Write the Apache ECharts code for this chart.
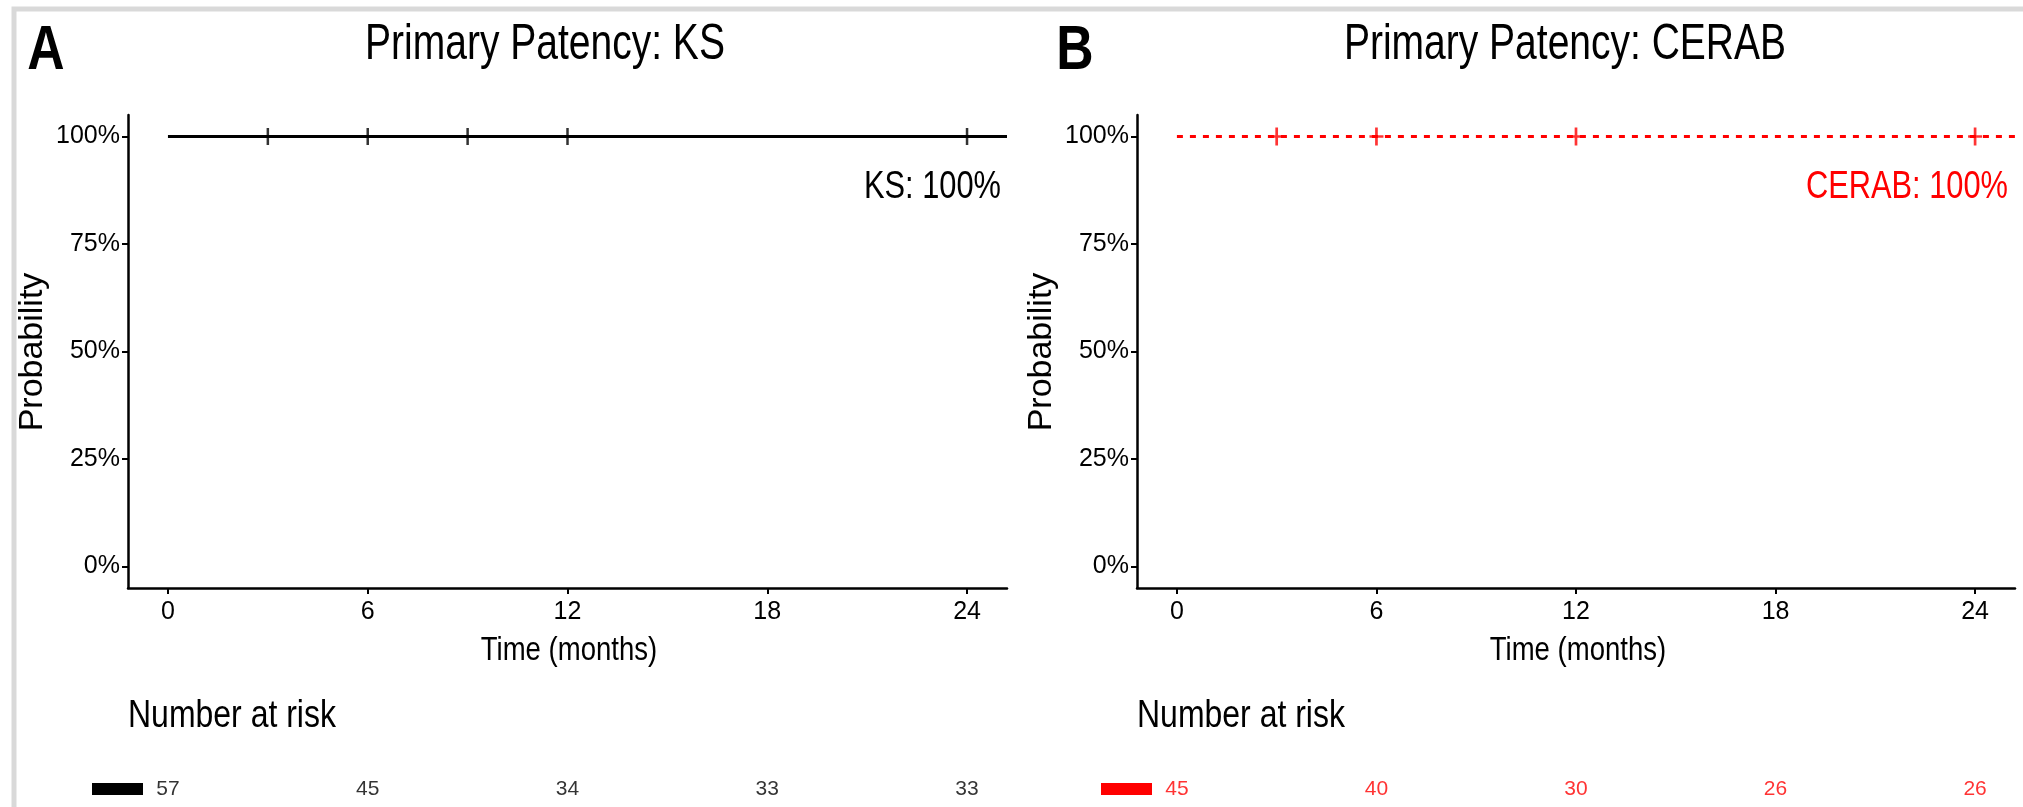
<!DOCTYPE html>
<html>
<head>
<meta charset="utf-8">
<script src="https://cdn.jsdelivr.net/npm/echarts@6/dist/echarts.min.js"></script>
<style>html,body{margin:0;padding:0;background:#fff;}#c{width:2023px;height:807px;}</style>
</head>
<body>
<div id="c"></div>
<script>
// ---- data ----
const ksTimes = [0, 25.2];
const ksSurv = [1, 1];
const ksCensorTimes = [3, 6, 9, 12, 24];
const cerabTimes = [0, 25.2];
const cerabSurv = [1, 1];
const cerabCensorTimes = [3, 6, 12, 24];
const riskTimes = [0, 6, 12, 18, 24];
const ksRisk = [57, 45, 34, 33, 33];
const cerabRisk = [45, 40, 30, 26, 26];
const xTicks = [0, 6, 12, 18, 24];
const yTicks = [0, 0.25, 0.5, 0.75, 1];
const yTickLabels = ['0%', '25%', '50%', '75%', '100%'];
const panelTitles = ['Primary Patency: KS', 'Primary Patency: CERAB'];
const panelLetters = ['A', 'B'];
const endLabels = ['KS: 100%', 'CERAB: 100%'];

const RED = '#ff0000';
const BLACK = '#000000';
const SANS = '"Liberation Sans", Arial, Helvetica, sans-serif';

const plusPath = 'path://M5.25,0h2.5v7.25h5.25v2.5h-5.25v7.25h-2.5v-7.25h-5.25v-2.5h5.25z';

const chart = echarts.init(document.getElementById('c'), null, {renderer: 'canvas'});

const panelLeft = [128, 1137];
const panelWidth = [879, 878];

function mainX(i) {
  return {
    type: 'value', gridIndex: i, min: -1.2, max: 25.2,
    axisLine: {show: true, onZero: false, lineStyle: {color: BLACK, width: 2.5}},
    axisTick: {show: true, customValues: xTicks, length: 6, lineStyle: {color: BLACK, width: 2}},
    axisLabel: {customValues: xTicks, color: BLACK, fontSize: 25, fontFamily: SANS, margin: 12},
    splitLine: {show: false}
  };
}
function mainY(i) {
  return {
    type: 'value', gridIndex: i, min: -0.05, max: 1.05,
    axisLine: {show: true, onZero: false, lineStyle: {color: BLACK, width: 2.5}},
    axisTick: {show: true, customValues: yTicks, length: 6, lineStyle: {color: BLACK, width: 2}},
    axisLabel: {customValues: yTicks, color: BLACK, fontSize: 25, fontFamily: SANS, margin: 8,
      formatter: v => yTickLabels[yTicks.indexOf(Math.round(v * 100) / 100)] ?? ''},
    splitLine: {show: false}
  };
}
function riskX(i) {
  return {type: 'value', gridIndex: i, min: -1.2, max: 25.2, show: false};
}
function riskY(i) {
  return {type: 'value', gridIndex: i, min: 0, max: 1, show: false};
}

const option = {
  animation: false,
  backgroundColor: '#ffffff',
  grid: [
    {left: panelLeft[0], top: 115, width: panelWidth[0], height: 473},
    {left: panelLeft[1], top: 115, width: panelWidth[1], height: 473},
    {left: panelLeft[0], top: 771, width: panelWidth[0], height: 40},
    {left: panelLeft[1], top: 771, width: panelWidth[1], height: 40}
  ],
  xAxis: [mainX(0), mainX(1), riskX(2), riskX(3)],
  yAxis: [mainY(0), mainY(1), riskY(2), riskY(3)],
  series: [
    {
      type: 'line', xAxisIndex: 0, yAxisIndex: 0, step: 'end', showSymbol: false,
      data: ksTimes.map((t, i) => [t, ksSurv[i]]),
      lineStyle: {color: BLACK, width: 2.8}, silent: true
    },
    {
      type: 'scatter', xAxisIndex: 0, yAxisIndex: 0, symbol: plusPath, symbolSize: [13, 17],
      data: ksCensorTimes.map(t => [t, 1]),
      itemStyle: {color: BLACK}, silent: true
    },
    {
      type: 'line', xAxisIndex: 1, yAxisIndex: 1, step: 'end', showSymbol: false,
      data: cerabTimes.map((t, i) => [t, cerabSurv[i]]),
      lineStyle: {color: RED, width: 2.8, type: [6, 7]}, silent: true
    },
    {
      type: 'scatter', xAxisIndex: 1, yAxisIndex: 1, symbol: plusPath, symbolSize: [14, 18],
      data: cerabCensorTimes.map(t => [t, 1]),
      itemStyle: {color: RED}, silent: true
    },
    {
      type: 'scatter', xAxisIndex: 2, yAxisIndex: 2, symbolSize: 1,
      data: riskTimes.map((t, i) => [t, 0.5, ksRisk[i]]),
      itemStyle: {color: 'rgba(0,0,0,0)'},
      label: {show: true, position: 'inside', formatter: p => String(p.value[2]), color: BLACK, fontSize: 21, fontFamily: SANS},
      silent: true
    },
    {
      type: 'scatter', xAxisIndex: 3, yAxisIndex: 3, symbolSize: 1,
      data: riskTimes.map((t, i) => [t, 0.5, cerabRisk[i]]),
      itemStyle: {color: 'rgba(0,0,0,0)'},
      label: {show: true, position: 'inside', formatter: p => String(p.value[2]), color: RED, fontSize: 21, fontFamily: SANS},
      silent: true
    }
  ],
  graphic: []
};

const g = option.graphic;
// frame
g.push({type: 'rect', shape: {x: 14, y: 9, width: 2200, height: 1000}, style: {fill: 'none', stroke: '#d9d9d9', lineWidth: 5}, silent: true});

function txt(x, y, text, font, color, align, sx, rot) {
  return {type: 'text', x: x, y: y, scaleX: sx || 1, rotation: rot || 0, silent: true,
    style: {text: text, font: font, fill: color, align: align, verticalAlign: 'middle'}};
}

const offsets = [0, 1009];
const titleX = [545, 1565];
const letterX = [46, 1075];
const endRight = [1001, 2008];
const endColors = [BLACK, RED];
const keyColors = [BLACK, RED];
for (let i = 0; i < 2; i++) {
  const o = offsets[i];
  g.push(txt(letterX[i], 52, panelLetters[i], 'bold 63px ' + SANS, BLACK, 'center', 0.82));
  g.push(txt(titleX[i], 45, panelTitles[i], '50px ' + SANS, BLACK, 'center', 0.78));
  g.push(txt(endRight[i], 187, endLabels[i], '39px ' + SANS, endColors[i], 'right', 0.79));
  g.push(txt(33 + o, 352, 'Probability', '34px ' + SANS, BLACK, 'center', 1, Math.PI / 2));
  g.push(txt(569 + o, 651, 'Time (months)', '34px ' + SANS, BLACK, 'center', 0.81));
  g.push(txt(128 + o, 716, 'Number at risk', '39px ' + SANS, BLACK, 'left', 0.82));
  g.push({type: 'rect', shape: {x: 92 + o, y: 783, width: 51, height: 12}, style: {fill: keyColors[i]}, silent: true});
}

chart.setOption(option);
</script>
</body>
</html>
